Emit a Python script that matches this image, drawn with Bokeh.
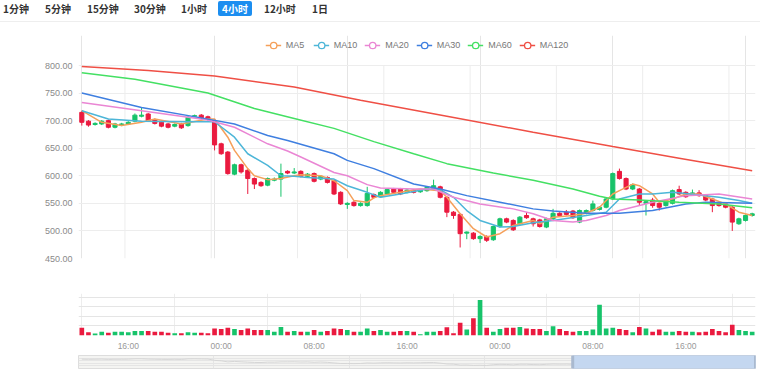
from bokeh.plotting import figure
from bokeh.layouts import column
from bokeh.models import (ColumnDataSource, Legend, LegendItem, FixedTicker, Div,
                          PrintfTickFormatter, Range1d)
from bokeh.embed import file_html
from bokeh.resources import INLINE

# ---------------- data ----------------
open_ = [715, 699, 693, 694, 700, 688, 692, 694, 699, 708,
         712, 702, 697, 694, 690, 694, 691, 708, 710, 707,
         700, 658, 643, 603, 620, 610, 595, 588, 583, 592,
         594, 608, 605, 608, 599, 604, 594, 597, 591, 570,
         548, 552, 546, 546, 566, 562, 567, 576, 576, 570,
         574, 571, 573, 576, 580, 561, 534, 530, 496, 496,
         486, 490, 484, 508, 522, 519, 513, 528, 522, 520,
         507, 522, 532, 534, 536, 516, 532, 537, 539, 543,
         558, 608, 595, 576, 576, 550, 556, 550, 546, 550,
         575, 570, 566, 569, 564, 558, 551, 549, 543, 513,
         519, 528]
high = [718, 701, 697, 701, 702, 696, 696, 699, 713, 724,
        714, 704, 699, 696, 695, 696, 708, 711, 712, 709,
        703, 660, 645, 622, 622, 612, 597, 590, 597, 597,
        622, 610, 614, 610, 605, 606, 601, 599, 593, 572,
        552, 554, 552, 580, 568, 572, 577, 578, 578, 576,
        576, 576, 581, 593, 582, 563, 536, 532, 499, 498,
        492, 492, 510, 524, 524, 521, 527, 534, 524, 522,
        524, 540, 534, 538, 538, 539, 539, 555, 545, 560,
        606, 613, 597, 586, 578, 555, 560, 552, 557, 575,
        582, 572, 575, 574, 566, 560, 553, 551, 545, 524,
        530, 533]
low = [691, 689, 691, 692, 686, 686, 690, 692, 697, 706,
       698, 693, 688, 686, 688, 685, 689, 707, 703, 700,
       646, 638, 602, 601, 604, 567, 576, 580, 581, 590,
       562, 603, 603, 597, 597, 588, 592, 586, 565, 547,
       540, 544, 544, 544, 559, 560, 565, 568, 565, 568,
       568, 569, 571, 574, 559, 525, 522, 470, 485, 484,
       478, 480, 482, 506, 514, 500, 511, 522, 508, 506,
       505, 520, 526, 528, 522, 514, 530, 535, 537, 541,
       556, 593, 574, 574, 546, 528, 542, 537, 544, 548,
       565, 560, 564, 562, 554, 534, 544, 541, 500, 511,
       517, 526]
close = [697, 692, 695, 699, 688, 694, 694, 697, 710, 710,
         700, 695, 690, 688, 693, 687, 706, 709, 705, 702,
         656, 640, 604, 620, 607, 595, 585, 582, 595, 594,
         604, 605, 607, 599, 603, 590, 599, 588, 567, 549,
         550, 546, 550, 568, 561, 570, 575, 570, 567, 574,
         570, 574, 579, 582, 561, 534, 528, 495, 498, 486,
         490, 483, 508, 522, 516, 502, 525, 524, 513, 508,
         522, 532, 528, 530, 524, 537, 537, 549, 543, 558,
         604, 595, 576, 584, 552, 553, 546, 543, 555, 573,
         567, 562, 569, 564, 556, 546, 546, 543, 516, 522,
         528, 531]
volume = [800, 330, 200, 400, 300, 400, 400, 330, 470, 470,
          470, 400, 400, 300, 230, 230, 330, 300, 300, 230,
          730, 670, 800, 670, 570, 730, 570, 570, 570, 400,
          900, 400, 470, 400, 400, 570, 400, 470, 730, 670,
          570, 400, 400, 730, 470, 570, 400, 400, 470, 470,
          400, 130, 400, 400, 470, 870, 230, 1330, 630, 1800,
          3730, 800, 400, 670, 800, 800, 900, 730, 670, 670,
          470, 970, 670, 470, 400, 470, 470, 630, 3230, 730,
          800, 670, 570, 330, 900, 730, 400, 630, 400, 400,
          470, 400, 400, 330, 400, 670, 470, 330, 1130, 570,
          470, 400]

ma5_idx = [0, 3, 6, 9, 11, 15, 19, 20, 22, 23, 25, 26, 28, 30, 32, 33, 36, 38, 40, 41,
           43, 44, 45, 48, 51, 54, 55, 57, 59, 61, 63, 65, 68, 69, 71, 74, 76, 78, 80, 81,
           83, 84, 86, 87, 89, 91, 93, 95, 97, 99, 101]
ma5_val = [718, 697, 691, 697, 703, 694, 703, 703, 670, 646, 613, 600, 593, 595, 600, 602, 600, 591, 573, 555,
           552, 560, 564, 570, 576, 573, 561, 531, 504, 489, 495, 510, 519, 513, 525, 528, 532, 543, 567, 573,
           585, 582, 567, 552, 558, 567, 567, 558, 549, 534, 528]
ma10_idx = [0, 4, 9, 16, 20, 23, 25, 28, 30, 32, 34, 38, 40, 43, 45, 48, 52, 54, 56, 58,
            60, 63, 65, 68, 71, 76, 79, 81, 84, 86, 89, 91, 94, 96, 99, 101]
ma10_val = [718, 703, 699, 698, 698, 670, 640, 619, 600, 599, 597, 594, 582, 570, 561, 567, 576, 575, 561, 537,
            519, 507, 508, 515, 519, 528, 534, 558, 567, 567, 570, 568, 564, 561, 555, 550]
ma20_idx = [0, 9, 19, 23, 28, 31, 33, 38, 40, 43, 45, 50, 53, 56, 60, 65, 68, 71, 74, 76,
            79, 81, 86, 91, 96, 101]
ma20_val = [733, 718, 701, 688, 658, 645, 634, 606, 600, 584, 578, 576, 576, 561, 549, 540, 531, 519, 516, 519,
            528, 537, 552, 564, 567, 558]
ma30_idx = [0, 9, 18, 23, 28, 31, 38, 40, 44, 50, 54, 58, 63, 68, 71, 76, 81, 86, 91, 94, 101]
ma30_val = [750, 724, 705, 694, 673, 664, 640, 628, 613, 585, 576, 564, 552, 540, 536, 532, 532, 537, 549, 552, 550]
ma60_idx = [0, 8, 19, 26, 32, 38, 44, 50, 55, 62, 68, 74, 78, 80, 84, 90, 96, 101]
ma60_val = [787, 775, 750, 722, 704, 686, 662, 640, 622, 605, 592, 576, 563, 558, 556, 552, 549, 542]
ma120_idx = [0, 10, 20, 32, 42, 55, 68, 80, 90, 101]
ma120_val = [798, 791, 781, 761, 737, 708, 679, 653, 632, 609]

price_ticks = [450, 500, 550, 600, 650, 700, 750, 800]
time_label_idx = [7, 21, 35, 49, 63, 77, 91]
time_labels = ["16:00", "00:00", "08:00", "16:00", "00:00", "08:00", "16:00"]
buttons = ["1分钟", "5分钟", "15分钟", "30分钟", "1小时", "4小时", "12小时", "1日"]
active_button = "4小时"
zoom_start_pct = 73.0
zoom_end_pct = 100.0
vol_axis_max = 4400

# ---------------- styles ----------------
UP = "#17c36a"
DOWN = "#ea1a3f"
GRID = "#ededed"
FONT = "Liberation Sans"
MA_COLORS = {"MA5": "#f5a05a", "MA10": "#4db6d8", "MA20": "#ea86d4",
             "MA30": "#3f7fe0", "MA60": "#44e063", "MA120": "#ef4f45"}
W = 760

N = len(close)
idx = list(range(N))
src = ColumnDataSource(dict(
    i=idx, open=open_, high=high, low=low, close=close,
    top=[max(o, c) for o, c in zip(open_, close)],
    bottom=[min(o, c) for o, c in zip(open_, close)],
    color=[UP if c >= o else DOWN for o, c in zip(open_, close)],
    vol=volume,
))
xr = Range1d(-0.5, N - 0.5)

# ---------------- period buttons ----------------
btn_x = [3, 45, 87, 134, 181, 218, 264, 312]
spans = []
for b, x in zip(buttons, btn_x):
    if b == active_button:
        style = ("position:absolute;left:%dpx;top:1px;height:15px;line-height:15px;padding:0 4px;"
                 "background:#1c8ef0;color:#fff;border-radius:2px;" % x)
    else:
        style = "position:absolute;left:%dpx;top:1px;height:15px;line-height:15px;color:#333;" % x
    spans.append('<span style="%s">%s</span>' % (style, b))
html = ('<div style="position:relative;width:%dpx;height:22px;box-sizing:border-box;'
        'border-bottom:1px solid #eeeeee;font-family:\'Noto Sans CJK SC\',sans-serif;'
        'font-size:10px;font-weight:bold;">' % W + "".join(spans) + '</div>')
div = Div(text=html, width=W, height=22, margin=(0, 0, 0, 0))

# ---------------- main chart ----------------
# frame spans y 35..258; price ticks 450..800 occupy the lower 193 px, the legend sits above
frame_h = 223
price_h = 193
y_top = price_ticks[0] + frame_h * (price_ticks[-1] - price_ticks[0]) / price_h
p = figure(width=W, height=241, x_range=xr, y_range=Range1d(price_ticks[0], y_top),
           x_axis_location=None, output_backend="svg", toolbar_location=None,
           min_border_left=78, min_border_right=5, min_border_top=13, min_border_bottom=5)
p.outline_line_color = None
p.yaxis.ticker = FixedTicker(ticks=price_ticks)
p.yaxis.formatter = PrintfTickFormatter(format="%.2f")
p.yaxis.axis_line_color = None
p.yaxis.major_tick_line_color = None
p.yaxis.minor_tick_line_color = None
p.yaxis.major_tick_out = 0
p.yaxis.major_label_standoff = 6
p.yaxis.major_label_text_color = "#8a8a8a"
p.yaxis.major_label_text_font = FONT
p.yaxis.major_label_text_font_size = "9px"
p.ygrid.ticker = FixedTicker(ticks=price_ticks)
p.ygrid.grid_line_color = GRID
main_split = [k + 0.5 for k in range(6, N, 13)]
p.segment(x0=main_split, y0=[price_ticks[0]] * len(main_split),
          x1=main_split, y1=[price_ticks[-1]] * len(main_split), line_color=GRID, line_width=1)

p.segment(x0="i", y0="low", x1="i", y1="high", source=src, line_color="color", line_width=1)
p.vbar(x="i", width=0.62, top="top", bottom="bottom", source=src,
       fill_color="color", line_color="color", line_width=1)

items = []
for name, xs, ys in [("MA5", ma5_idx, ma5_val), ("MA10", ma10_idx, ma10_val),
                     ("MA20", ma20_idx, ma20_val), ("MA30", ma30_idx, ma30_val),
                     ("MA60", ma60_idx, ma60_val), ("MA120", ma120_idx, ma120_val)]:
    s = ColumnDataSource(dict(x=xs, y=ys))
    col = MA_COLORS[name]
    lr = p.line("x", "y", source=s, line_color=col, line_width=1.5)
    sr = p.scatter("x", "y", source=s, marker="circle", size=7, fill_color="white",
                   line_color=col, line_width=1.3, visible=False)
    items.append(LegendItem(label=name, renderers=[lr, sr]))

legend = Legend(items=items, orientation="horizontal", location="top_center",
                glyph_width=16, glyph_height=16, label_height=16, label_standoff=5, spacing=7,
                padding=0, margin=2, border_line_color=None, background_fill_alpha=0,
                label_text_font=FONT, label_text_font_size="9px", label_text_color="#777777")
p.add_layout(legend)

# ---------------- volume ----------------
pv = figure(width=W, height=90, x_range=xr, y_range=Range1d(0, vol_axis_max),
            y_axis_location=None, output_backend="svg", toolbar_location=None,
            min_border_left=78, min_border_right=5, min_border_top=30, min_border_bottom=16)
pv.outline_line_color = None
pv.xgrid.ticker = FixedTicker(ticks=list(range(0, N, 14)))
pv.xgrid.grid_line_color = GRID
pv.vbar(x="i", width=0.7, top="vol", bottom=0, source=src, fill_color="color", line_color=None)
pv.xaxis.ticker = FixedTicker(ticks=time_label_idx)
pv.xaxis.major_label_overrides = {k: v for k, v in zip(time_label_idx, time_labels)}
pv.xaxis.axis_line_color = None
pv.xaxis.major_tick_line_color = None
pv.xaxis.minor_tick_line_color = None
pv.xaxis.major_tick_out = 0
pv.xaxis.major_label_standoff = 5
pv.xaxis.major_label_text_color = "#999999"
pv.xaxis.major_label_text_font = FONT
pv.xaxis.major_label_text_font_size = "8.5px"

# ---------------- data zoom slider ----------------
ps = figure(width=W, height=18, x_range=Range1d(0, 100), y_range=Range1d(0, 1),
            x_axis_location=None, y_axis_location=None, output_backend="svg", toolbar_location=None,
            min_border_left=78, min_border_right=3, min_border_top=2, min_border_bottom=3)
ps.background_fill_color = "#f4f4f2"
ps.outline_line_color = "#dddddd"
ps.extra_y_ranges = {"shadow": Range1d(380, 820)}
pct = [(i + 0.5) / N * 100 for i in idx]
ps.line(pct, close, y_range_name="shadow", line_color="#d6d6d6", line_width=1)
ps.quad(left=[zoom_start_pct], right=[zoom_end_pct], bottom=[0], top=[1],
        fill_color="#c4d7f0", line_color="#afc5e3")
ps.rect(x=[zoom_start_pct, zoom_end_pct], y=[0.5, 0.5], width=3, width_units="screen",
        height=1, fill_color="#a9b9cf", line_color=None)

layout = column(div, p, pv, ps, spacing=0)
open("out.html", "w").write(file_html(layout, INLINE))
